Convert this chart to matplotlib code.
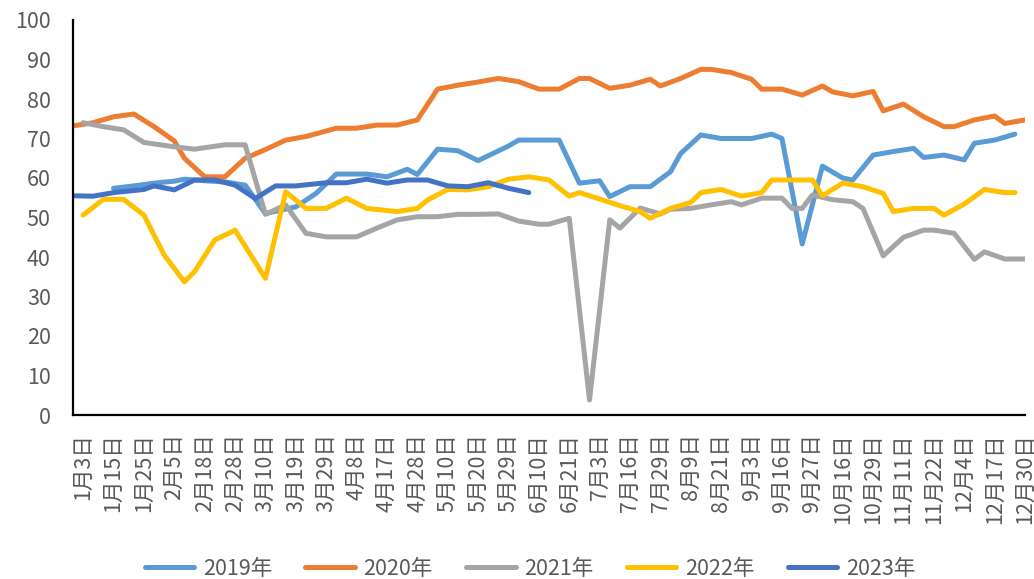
import numpy as np
import matplotlib
matplotlib.use("Agg")
import matplotlib.pyplot as plt

plt.rcParams['font.family'] = ['Noto Sans CJK SC', 'DejaVu Sans']

# category axis: 95 dates, every 3rd one labelled
n_cat = 95
tick_labels = ['1月3日', '1月15日', '1月25日', '2月5日', '2月18日', '2月28日', '3月10日', '3月19日',
               '3月29日', '4月8日', '4月17日', '4月28日', '5月10日', '5月20日', '5月29日', '6月10日',
               '6月21日', '7月3日', '7月16日', '7月29日', '8月9日', '8月21日', '9月3日', '9月16日',
               '9月27日', '10月16日', '10月29日', '11月11日', '11月22日', '12月4日', '12月17日', '12月30日']

x2019 = [4, 6, 8, 10, 11, 13, 15, 17, 19, 22, 24, 26, 29, 31, 33, 34, 36, 38, 40, 43, 44, 46, 48,
         50, 52, 53, 55, 57, 59, 60, 62, 64, 65, 67, 69, 70, 72, 74, 76, 77, 79, 81, 83, 84, 86,
         88, 89, 91, 93]
y2019 = [57.4, 58.0, 58.7, 59.2, 59.7, 59.3, 59.0, 58.2, 51.0, 52.7, 56.1, 61.0, 61.0, 60.3, 62.2,
         60.9, 67.3, 66.9, 64.4, 68.1, 69.6, 69.6, 69.6, 58.7, 59.3, 55.3, 57.8, 57.8, 61.6, 66.2,
         70.9, 70.0, 70.0, 70.0, 71.1, 70.0, 43.3, 63.0, 60.0, 59.5, 65.8, 66.7, 67.5, 65.2, 65.8,
         64.6, 68.8, 69.6, 71.1]

x2020 = [0, 2, 4, 6, 8, 10, 11, 13, 15, 17, 19, 21, 23, 26, 28, 30, 32, 34, 36, 38, 40, 42, 44,
         46, 48, 50, 51, 53, 55, 57, 58, 60, 62, 63, 65, 67, 68, 70, 72, 74, 75, 77, 79, 80, 82,
         84, 86, 87, 89, 91, 92, 94]
y2020 = [73.2, 74.0, 75.5, 76.2, 73.0, 69.4, 65.0, 60.3, 60.3, 65.0, 67.2, 69.6, 70.5, 72.6, 72.6,
         73.4, 73.4, 74.7, 82.5, 83.5, 84.3, 85.2, 84.4, 82.5, 82.5, 85.2, 85.2, 82.7, 83.5, 85.0,
         83.3, 85.2, 87.5, 87.5, 86.7, 85.0, 82.5, 82.5, 81.0, 83.3, 81.8, 80.8, 81.9, 77.0, 78.7,
         75.5, 73.0, 73.0, 74.7, 75.7, 73.8, 74.7]

x2021 = [1, 3, 5, 7, 10, 12, 15, 17, 19, 21, 23, 25, 28, 30, 32, 34, 36, 38, 40, 42, 44, 46, 47,
         49, 51, 53, 54, 56, 58, 59, 61, 63, 65, 66, 68, 70, 71, 72, 73, 75, 77, 78, 80, 82, 84,
         85, 87, 89, 90, 92, 94]
y2021 = [74.0, 73.0, 72.2, 69.0, 67.9, 67.3, 68.4, 68.4, 50.8, 53.2, 46.0, 45.1, 45.1, 47.3, 49.4,
         50.2, 50.2, 50.8, 50.8, 50.9, 49.1, 48.3, 48.3, 49.8, 3.8, 49.4, 47.3, 52.4, 50.9, 52.1,
         52.3, 53.2, 54.0, 53.2, 54.9, 54.9, 52.3, 52.3, 55.7, 54.5, 54.0, 52.3, 40.3, 45.0, 46.8,
         46.8, 46.0, 39.4, 41.3, 39.5, 39.5]

x2022 = [1, 3, 5, 7, 9, 11, 12, 14, 16, 19, 21, 23, 25, 27, 29, 32, 34, 35, 37, 39, 41, 43, 45,
         47, 49, 50, 52, 54, 56, 57, 59, 61, 62, 64, 66, 68, 69, 71, 73, 74, 76, 78, 80, 81, 83,
         85, 86, 88, 90, 92, 93]
y2022 = [50.6, 54.6, 54.6, 50.6, 40.5, 33.7, 36.3, 44.3, 46.8, 34.6, 56.5, 52.3, 52.3, 54.9, 52.3,
         51.5, 52.3, 54.4, 57.1, 57.0, 57.8, 59.7, 60.3, 59.5, 55.4, 56.3, 54.7, 53.0, 51.5, 49.8,
         52.3, 53.8, 56.3, 57.1, 55.4, 56.3, 59.5, 59.5, 59.5, 55.5, 58.7, 57.8, 56.1, 51.5, 52.3,
         52.3, 50.6, 53.4, 57.1, 56.3, 56.3]

x2023 = [0, 2, 4, 7, 8, 10, 12, 14, 16, 18, 20, 22, 25, 27, 29, 31, 33, 35, 37, 39, 41, 43, 45]
y2023 = [55.5, 55.4, 56.3, 57.1, 58.0, 57.0, 59.5, 59.5, 58.2, 54.8, 58.0, 58.0, 58.8, 58.8, 59.7,
         58.7, 59.5, 59.5, 58.0, 57.8, 58.8, 57.4, 56.3]

series = [
    ('2019年', x2019, y2019, '#5B9BD5'),
    ('2020年', x2020, y2020, '#ED7D31'),
    ('2021年', x2021, y2021, '#A5A5A5'),
    ('2022年', x2022, y2022, '#FFC000'),
    ('2023年', x2023, y2023, '#4472C4'),
]

txt = '#595959'
fig = plt.figure(figsize=(10.34, 5.79), dpi=100)
ax = fig.add_axes([73 / 1034, 1 - 415 / 579, (1025 - 73) / 1034, (415 - 20) / 579])

for name, xs, ys, c in series:
    ax.plot(xs, ys, color=c, lw=3.6, label=name,
            solid_joinstyle='round', solid_capstyle='round')

ax.set_xlim(0, n_cat - 1)
ax.set_ylim(0, 100)
ax.set_yticks(np.arange(0, 101, 10))
ax.set_xticks(np.arange(1, n_cat, 3))
ax.set_xticklabels(tick_labels, rotation=90, va='top', ha='center')

ax.tick_params(axis='y', length=0, pad=16, labelsize=15.5, labelcolor=txt)
ax.tick_params(axis='x', length=0, pad=13, labelsize=15.5, labelcolor=txt)

for s in ['top', 'right']:
    ax.spines[s].set_visible(False)
ax.spines['left'].set_color('black')
ax.spines['bottom'].set_color('black')
ax.spines['left'].set_linewidth(1.6)
ax.spines['bottom'].set_linewidth(1.6)

leg = fig.legend(loc='center', bbox_to_anchor=(530 / 1034, 1 - 569 / 579), ncol=5,
                 frameon=False, fontsize=15.5, handlelength=2.3, handletextpad=0.4,
                 columnspacing=1.55)
for t in leg.get_texts():
    t.set_color(txt)

fig.savefig('out.png', dpi=100)
